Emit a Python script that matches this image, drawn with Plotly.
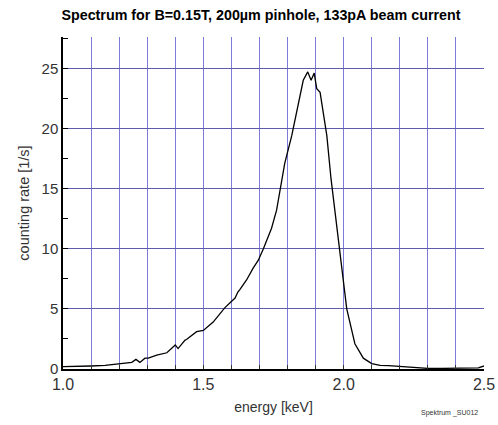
import plotly.graph_objects as go

energy = [1.00, 1.05, 1.10, 1.15, 1.20, 1.245, 1.26, 1.274, 1.292, 1.304, 1.334, 1.37, 1.40, 1.41,
          1.435, 1.44, 1.476, 1.50, 1.535, 1.577, 1.613, 1.623, 1.63, 1.654, 1.678, 1.696, 1.714,
          1.743, 1.761, 1.775, 1.79, 1.815, 1.835, 1.856, 1.872, 1.884, 1.895, 1.904, 1.916,
          1.94, 1.955, 1.959, 1.984, 2.011, 2.04, 2.07, 2.10, 2.13, 2.16, 2.20, 2.25, 2.30,
          2.35, 2.40, 2.45, 2.48, 2.50]
rate = [0.2, 0.2, 0.25, 0.3, 0.4, 0.55, 0.8, 0.55, 0.9, 0.9, 1.15, 1.35, 2.0, 1.7,
        2.4, 2.45, 3.1, 3.2, 3.9, 5.1, 5.9, 6.4, 6.6, 7.4, 8.4, 9.05, 10.0,
        11.7, 13.2, 15.0, 17.1, 19.4, 21.8, 24.0, 24.7, 24.0, 24.6, 23.3, 23.0,
        19.4, 15.8, 15.0, 10.0, 5.0, 2.1, 0.9, 0.45, 0.3, 0.28, 0.2, 0.1, 0.05,
        0.05, 0.08, 0.05, 0.1, 0.25]

x_ticks = [round(1.0 + 0.1 * i, 1) for i in range(16)]
x_labels = ["1.0", "", "", "", "", "1.5", "", "", "", "", "2.0", "", "", "", "", "2.5"]
y_ticks = [0, 5, 10, 15, 20, 25]

grid = "#5c5cab"
xgrid = "#7c7cd8"
font = "Liberation Sans, Arial, sans-serif"

fig = go.Figure()
fig.add_trace(go.Scatter(x=energy, y=rate, mode="lines",
                         line=dict(color="black", width=1.3), showlegend=False))

fig.update_layout(
    width=498, height=425,
    margin=dict(l=63, r=14, t=37, b=56),
    paper_bgcolor="white", plot_bgcolor="white",
    font=dict(family=font, color="#222"),
    title=dict(text="<b>Spectrum for B=0.15T, 200µm pinhole, 133pA beam current</b>",
               x=0.524, xanchor="center", y=0.965, yanchor="middle",
               font=dict(size=14.3, color="black")),
    annotations=[dict(text="Spektrum _SU012", x=0.99, y=-0.133, xref="paper", yref="paper",
                      xanchor="right", yanchor="middle", showarrow=False,
                      font=dict(size=7, color="#333"))],
)

fig.update_xaxes(
    range=[1.0, 2.5], tickvals=x_ticks, ticktext=x_labels, automargin=False,
    showgrid=True, gridcolor=xgrid, gridwidth=1,
    showline=True, linecolor="black", linewidth=1.5,
    ticks="inside", ticklen=4, tickcolor="#333",
    tickfont=dict(size=16, color="#333"),
    title=dict(text="energy [keV]", font=dict(size=14, color="#333"), standoff=10),
    zeroline=False,
)
fig.update_yaxes(
    range=[0, 27.6], tickvals=y_ticks, automargin=False,
    showgrid=True, gridcolor=grid, gridwidth=1,
    showline=True, linecolor="black", linewidth=1.5,
    ticks="inside", ticklen=5, tickcolor="black",
    minor=dict(dtick=2.5, tick0=0, ticks="inside", ticklen=5, tickcolor="black", showgrid=False),
    tickfont=dict(size=15, color="#333"),
    title=dict(text="counting rate [1/s]", font=dict(size=14.5, color="#333"), standoff=8),
    zeroline=False,
)

fig.write_html("out.html", config={"displayModeBar": False},
               post_script="document.body.style.margin='0px';")
